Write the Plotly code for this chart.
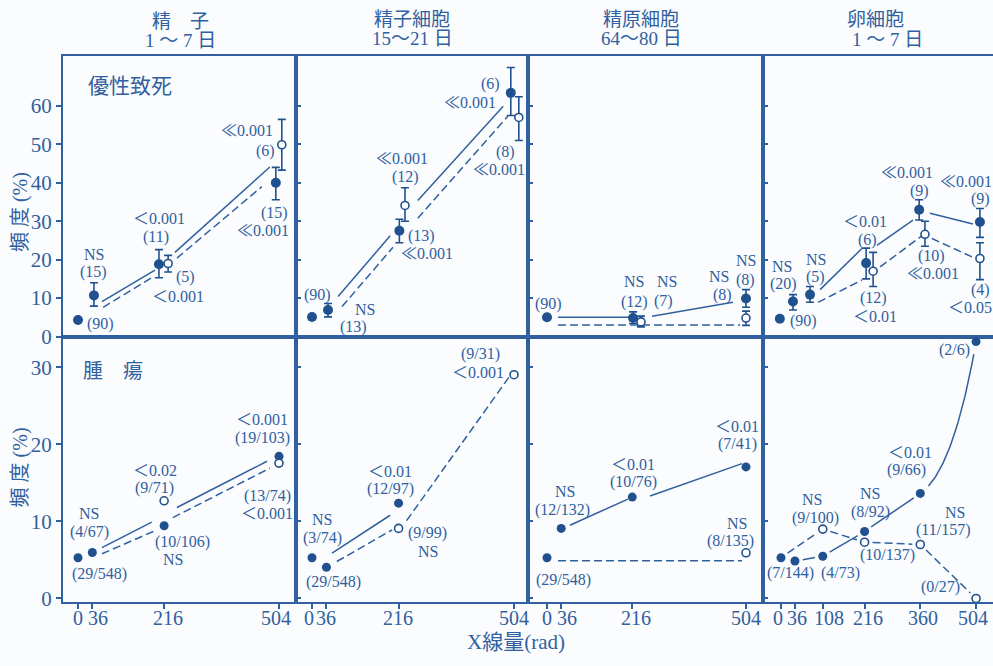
import math
import plotly.graph_objects as go

# ---------------------------------------------------------------- data
panel_titles = [("精　子", "1 ～ 7 日"), ("精子細胞", "15～21 日"),
                ("精原細胞", "64～80 日"), ("卵細胞", "1 ～ 7 日")]
dose_ticks = [[0, 36, 216, 504], [0, 36, 216, 504], [0, 36, 216, 504],
              [0, 36, 108, 216, 360, 504]]

# dominant lethal frequency (%) with error-bar limits, one list per column
dl_filled_dose = [[0, 36, 216, 504], [0, 36, 216, 504], [0, 216, 504],
                  [0, 36, 72, 216, 360, 504]]
dl_filled_val = [[4.3, 10.7, 18.8, 40.0], [5.1, 6.9, 27.5, 63.4], [5.0, 4.8, 9.9],
                 [4.6, 9.1, 10.9, 19.1, 33.0, 29.8]]
dl_filled_hi = [[None, 14.0, 22.6, 44.0], [None, 8.6, 30.5, 70.0], [None, 6.4, 12.2],
                [None, 10.9, 13.0, 23.0, 35.6, 33.3]]
dl_filled_lo = [[None, 7.9, 15.3, 35.6], [None, 5.1, 24.4, 57.5], [None, 3.4, 7.6],
                [None, 6.9, 8.9, 15.0, 30.3, 25.8]]
dl_open_dose = [[216, 504], [216, 504], [216, 504], [216, 360, 504]]
dl_open_val = [[19.0, 49.9], [34.1, 57.0], [3.8, 4.8], [17.0, 26.6, 20.3]]
dl_open_hi = [[21.1, 56.5], [38.7, 62.4], [5.3, 6.6], [21.9, 30.0, 24.4]]
dl_open_lo = [[16.8, 43.3], [30.0, 51.0], [2.5, 2.9], [13.0, 23.5, 14.8]]

# tumour incidence: affected / examined
tu_filled_dose = [[0, 36, 216, 504], [0, 36, 216], [0, 36, 216, 504],
                  [0, 36, 108, 216, 360, 504]]
tu_filled_n = [[29, 4, 10, 19], [29, 3, 12], [29, 12, 10, 7], [29, 7, 4, 8, 9, 2]]
tu_filled_N = [[548, 67, 106, 103], [548, 74, 97], [548, 132, 76, 41],
               [548, 144, 73, 92, 66, 6]]
tu_open_dose = [[216, 504], [216, 504], [504], [108, 216, 360, 504]]
tu_open_n = [[9, 13], [9, 9], [8], [9, 10, 11, 0]]
tu_open_N = [[71, 74], [99, 31], [135], [100, 137, 157, 27]]

# hand-drawn trend strokes (dose, %, dose, %)
dl_solid_guides = [
    [(60, 9.1, 193, 17.3), (243, 21.9, 481, 44.1)],
    [(65, 10.4, 195, 26.2), (264, 35.4, 477, 59.9)],
    [(28, 5.0, 215, 5.0), (266, 5.3, 471, 8.9)],
    [(101, 12.2, 209, 22.9), (248, 23.7, 341, 30.3), (385, 32.1, 496, 29.3)],
]
dl_dashed_guides = [
    [(63, 7.6, 188, 15.5), (248, 20.4, 461, 39.0)],
    [(75, 7.8, 202, 23.2), (264, 30.8, 489, 57.4)],
    [(28, 3.0, 489, 3.0)],
    [(96, 8.9, 209, 14.7), (256, 18.1, 364, 26.2), (390, 25.5, 496, 20.6)],
]
tu_solid_guides = [
    [(60, 6.6, 185, 9.9), (248, 11.8, 474, 17.8)],
    [(50, 5.9, 195, 10.8)],
    [(58, 9.5, 205, 12.9), (261, 13.3, 494, 17.5)],
]
tu_dashed_guides = [
    [(60, 5.8, 198, 8.9), (238, 10.5, 481, 16.9)],
    [(62, 4.8, 200, 8.9), (236, 10.1, 494, 28.9)],
    [(28, 4.9, 494, 4.9)],
]

# ---------------------------------------------------------------- style
W, H = 993, 666
BG = "#fbfcfd"
BLUE = "#30609f"
MARK = "#21508f"
FONT = "Liberation Serif, 'Noto Sans CJK JP', serif"
COLS = [63, 296, 528, 763, 993]          # panel edges (px)
ROWS = [57, 343, 613]
XR = [(-37.6, 546.6), (-39.9, 538.9), (-48.1, 547.1), (-46.5, 547.8)]
YR = [(-0.08, 73.0), (-0.45, 33.95)]
YTICKS = [[0, 10, 20, 30, 40, 50, 60], [0, 10, 20, 30]]

# small horizontal nudges so paired symbols sit side by side
dl_filled_shift = [[0, 4, -13, -8], [0, 4, 2, -8], [0, 2, 0], [-3, -5, 3, 4, -3, 10]]
dl_open_shift = [[10, 7], [16, 12], [22, 0], [22, 12, 10]]
# pixel nudges of the dose labels under crowded ticks
tick_label_shift = [[0, 6, 4, -3], [-3, 0, -1, 0], [0, 6, 4, 0], [-3, 2, 6, 3, 3, -3]]


def px_of(c, row, d, v):
    x0, x1 = XR[c]
    y0, y1 = YR[row]
    X = COLS[c] + (d - x0) / (x1 - x0) * (COLS[c + 1] - COLS[c])
    Y = ROWS[row + 1] - (v - y0) / (y1 - y0) * (ROWS[row + 1] - ROWS[row])
    return X, Y


def data_of(c, row, X, Y):
    x0, x1 = XR[c]
    y0, y1 = YR[row]
    d = x0 + (X - COLS[c]) / (COLS[c + 1] - COLS[c]) * (x1 - x0)
    v = y0 + (ROWS[row + 1] - Y) / (ROWS[row + 1] - ROWS[row]) * (y1 - y0)
    return d, v


def guide_xy(segs):
    xs, ys = [], []
    for d0, v0, d1, v1 in segs:
        xs += [d0, d1, None]
        ys += [v0, v1, None]
    return xs, ys


def chain_xy(c, row, pts, gap=8):
    xs, ys = [], []
    for (d0, v0), (d1, v1) in zip(pts[:-1], pts[1:]):
        X0, Y0 = px_of(c, row, d0, v0)
        X1, Y1 = px_of(c, row, d1, v1)
        L = math.hypot(X1 - X0, Y1 - Y0)
        ux, uy = (X1 - X0) / L, (Y1 - Y0) / L
        a = data_of(c, row, X0 + ux * gap, Y0 + uy * gap)
        b = data_of(c, row, X1 - ux * gap, Y1 - uy * gap)
        xs += [a[0], b[0], None]
        ys += [a[1], b[1], None]
    return xs, ys


def curve_xy(c, row, prev, p0, p2, k=0.6, gap=11):
    Px, Py = px_of(c, row, *prev)
    X0, Y0 = px_of(c, row, *p0)
    X2, Y2 = px_of(c, row, *p2)
    X1, Y1 = X0 + k * (X0 - Px), Y0 + k * (Y0 - Py)
    xs, ys = [], []
    for i in range(81):
        t = i / 80
        X = (1 - t) ** 2 * X0 + 2 * (1 - t) * t * X1 + t * t * X2
        Y = (1 - t) ** 2 * Y0 + 2 * (1 - t) * t * Y1 + t * t * Y2
        if math.hypot(X - X0, Y - Y0) < gap or math.hypot(X - X2, Y - Y2) < gap:
            continue
        d, v = data_of(c, row, X, Y)
        xs.append(d)
        ys.append(v)
    return xs, ys


def ax_ref(row, c):
    k = row * 4 + c + 1
    return ("x" if k == 1 else f"x{k}"), ("y" if k == 1 else f"y{k}")


fig = go.Figure()
line_solid = dict(color=BLUE, width=1.5)
line_dash = dict(color=BLUE, width=1.5, dash="8px,4px")


def add_errors(xr, yr, xs, vals, hi, lo):
    idx = [i for i, h in enumerate(hi) if h is not None]
    if not idx:
        return
    fig.add_trace(go.Scatter(
        x=[xs[i] for i in idx], y=[vals[i] for i in idx], xaxis=xr, yaxis=yr,
        mode="markers", marker=dict(size=1, color="rgba(0,0,0,0)"),
        error_y=dict(type="data", symmetric=False,
                     array=[hi[i] - vals[i] for i in idx],
                     arrayminus=[vals[i] - lo[i] for i in idx],
                     color=MARK, thickness=1.6, width=4),
        hoverinfo="skip"))


# ---- top row: dominant lethals
for c in range(4):
    xr, yr = ax_ref(0, c)
    fx = [d + s for d, s in zip(dl_filled_dose[c], dl_filled_shift[c])]
    ox = [d + s for d, s in zip(dl_open_dose[c], dl_open_shift[c])]
    add_errors(xr, yr, fx, dl_filled_val[c], dl_filled_hi[c], dl_filled_lo[c])
    add_errors(xr, yr, ox, dl_open_val[c], dl_open_hi[c], dl_open_lo[c])
    gx, gy = guide_xy(dl_solid_guides[c])
    fig.add_trace(go.Scatter(x=gx, y=gy, xaxis=xr, yaxis=yr, mode="lines", line=line_solid))
    gx, gy = guide_xy(dl_dashed_guides[c])
    fig.add_trace(go.Scatter(x=gx, y=gy, xaxis=xr, yaxis=yr, mode="lines", line=line_dash))
    fig.add_trace(go.Scatter(x=fx, y=dl_filled_val[c], xaxis=xr, yaxis=yr, mode="markers",
                             marker=dict(size=10, color=MARK)))
    fig.add_trace(go.Scatter(x=ox, y=dl_open_val[c], xaxis=xr, yaxis=yr, mode="markers",
                             marker=dict(size=8, color="white", line=dict(color=MARK, width=1.6))))

# ---- bottom row: tumours
for c in range(4):
    xr, yr = ax_ref(1, c)
    fv = [100.0 * n / N for n, N in zip(tu_filled_n[c], tu_filled_N[c])]
    ov = [100.0 * n / N for n, N in zip(tu_open_n[c], tu_open_N[c])]
    if c < 3:
        gx, gy = guide_xy(tu_solid_guides[c])
        fig.add_trace(go.Scatter(x=gx, y=gy, xaxis=xr, yaxis=yr, mode="lines", line=line_solid))
        gx, gy = guide_xy(tu_dashed_guides[c])
        fig.add_trace(go.Scatter(x=gx, y=gy, xaxis=xr, yaxis=yr, mode="lines", line=line_dash))
    else:
        fpts = list(zip(tu_filled_dose[c], fv))
        opts = list(zip(tu_open_dose[c], ov))
        gx, gy = chain_xy(c, 1, fpts[1:5])
        cx, cy = curve_xy(c, 1, fpts[3], fpts[4], fpts[5])
        fig.add_trace(go.Scatter(x=gx + cx, y=gy + cy, xaxis=xr, yaxis=yr, mode="lines",
                                 line=line_solid))
        gx, gy = chain_xy(c, 1, [fpts[0]] + opts)
        fig.add_trace(go.Scatter(x=gx, y=gy, xaxis=xr, yaxis=yr, mode="lines", line=line_dash))
    fig.add_trace(go.Scatter(x=tu_filled_dose[c], y=fv, xaxis=xr, yaxis=yr, mode="markers",
                             marker=dict(size=9, color=MARK)))
    fig.add_trace(go.Scatter(x=tu_open_dose[c], y=ov, xaxis=xr, yaxis=yr, mode="markers",
                             marker=dict(size=8, color="white", line=dict(color=MARK, width=1.6))))

# ---- axes / frames
layout = dict(width=W, height=H, margin=dict(l=0, r=0, t=0, b=0), showlegend=False,
              paper_bgcolor=BG, plot_bgcolor=BG, hovermode=False)
for row in range(2):
    for c in range(4):
        k = row * 4 + c + 1
        xn = "xaxis" if k == 1 else f"xaxis{k}"
        yn = "yaxis" if k == 1 else f"yaxis{k}"
        xr, yr = ax_ref(row, c)
        layout[xn] = dict(
            domain=[COLS[c] / W, COLS[c + 1] / W], range=list(XR[c]), anchor=yr,
            showgrid=False, zeroline=False, showline=True, mirror=True,
            linecolor=BLUE, linewidth=2,
            ticks="outside" if row == 1 else "", tickvals=dose_ticks[c] if row == 1 else [],
            showticklabels=False, ticklen=5, tickwidth=1.5, tickcolor=BLUE)
        layout[yn] = dict(
            domain=[1 - ROWS[row + 1] / H, 1 - ROWS[row] / H], range=list(YR[row]), anchor=xr,
            showgrid=False, zeroline=False, showline=True, mirror=(c < 3),
            linecolor=BLUE, linewidth=2,
            ticks="outside" if c == 0 else "inside", tickvals=YTICKS[row],
            showticklabels=(c == 0), ticklen=5, tickwidth=1.5, tickcolor=BLUE,
            tickfont=dict(family=FONT, size=21, color=BLUE))
fig.update_layout(**layout)

# dose labels under the bottom row, placed on each panel's own dose scale
for c in range(4):
    xr, _ = ax_ref(1, c)
    for t, sh in zip(dose_ticks[c], tick_label_shift[c]):
        fig.add_annotation(text=str(t), x=t, xref=xr, y=1 - 629 / H, yref="paper",
                           xshift=sh, xanchor="center", yanchor="middle", showarrow=False,
                           borderpad=0, font=dict(family=FONT, size=20, color=BLUE))

# ---- text
top_labels = [
    ("(90)", 100, 330), ("NS", 94, 259), ("(15)", 93, 277), ("＜0.001", 159, 223),
    ("(11)", 156, 241), ("(5)", 185, 282), ("＜0.001", 178, 302), ("≪0.001", 247, 133),
    ("(6)", 265, 154), ("(15)", 274, 217), ("≪0.001", 263, 235),
    ("(90)", 317, 300), ("NS", 365, 315), ("(13)", 353, 333), ("≪0.001", 402, 161),
    ("(12)", 405, 180), ("(13)", 421, 240), ("≪0.001", 427, 258), ("(6)", 490, 86),
    ("≪0.001", 470, 104), ("(8)", 505, 155), ("≪0.001", 499, 173),
    ("(90)", 548, 310), ("NS", 634, 287), ("(12)", 634, 308), ("NS", 667, 287),
    ("(7)", 663, 307), ("NS", 719, 282), ("(8)", 722, 300), ("NS", 746, 265), ("(8)", 745, 285),
    ("NS", 782, 271), ("(20)", 783, 289), ("(90)", 803, 327), ("NS", 816, 264), ("(5)", 815, 282),
    ("＜0.01", 865, 226), ("(6)", 867, 244), ("(12)", 873, 303), ("＜0.01", 875, 322),
    ("≪0.001", 907, 176), ("(9)", 919, 194), ("(10)", 931, 261), ("≪0.001", 933, 279),
    ("≪0.001", 966, 185), ("(9)", 980, 203), ("(4)", 980, 295), ("＜0.05", 970, 313),
]
bottom_labels = [
    ("NS", 89, 523), ("(4/67)", 89, 542), ("(29/548)", 99, 585), ("＜0.02", 155, 479),
    ("(9/71)", 154, 497), ("(10/106)", 182, 552), ("NS", 173, 570), ("＜0.001", 262, 427),
    ("(19/103)", 262, 446), ("(13/74)", 267, 505), ("＜0.001", 267, 523),
    ("(9/31)", 480, 361), ("＜0.001", 478, 379), ("＜0.01", 390, 480), ("(12/97)", 390, 498),
    ("NS", 322, 529), ("(3/74)", 322, 548), ("(29/548)", 333, 593), ("(9/99)", 427, 543),
    ("NS", 428, 562),
    ("＜0.01", 737, 434), ("(7/41)", 737, 452), ("＜0.01", 633, 473), ("(10/76)", 633, 491),
    ("NS", 565, 501), ("(12/132)", 562, 519), ("(29/548)", 563, 591), ("NS", 737, 533),
    ("(8/135)", 730, 551),
    ("(2/6)", 954, 356), ("＜0.01", 910, 461), ("(9/66)", 906, 479), ("NS", 870, 503),
    ("(8/92)", 870, 521), ("NS", 812, 509), ("(9/100)", 815, 527), ("NS", 955, 522),
    ("(11/157)", 943, 540), ("(10/137)", 887, 565), ("(7/144)", 790, 584),
    ("(4/73)", 840, 584), ("(0/27)", 940, 598),
]
title_pos = [(180, 22, 180, 41), (412, 20, 412, 39), (641, 20, 641, 39), (875, 20, 887, 40)]


def note(text, x, y, size=16, angle=0):
    fig.add_annotation(text=text, x=x / W, y=1 - y / H, xref="paper", yref="paper",
                       xanchor="center", yanchor="middle", showarrow=False, textangle=angle,
                       borderpad=0, font=dict(family=FONT, size=size, color=BLUE))


for t, x, y in top_labels + bottom_labels:
    note(t, x, y)
for (l1, l2), (x1, y1, x2, y2) in zip(panel_titles, title_pos):
    note(l1, x1, y1, size=19)
    note(l2, x2, y2, size=19)
note("優性致死", 130, 88, size=21)
note("腫　瘍", 113, 378, size=20)
note("頻 度 (%)", 20, 216, size=20, angle=-90)
note("頻 度 (%)", 20, 476, size=20, angle=-90)
note("X線量(rad)", 516, 654, size=21)

fig.write_html(
    "out.html",
    post_script="document.body.style.margin='0px';document.body.style.overflow='hidden';",
)
